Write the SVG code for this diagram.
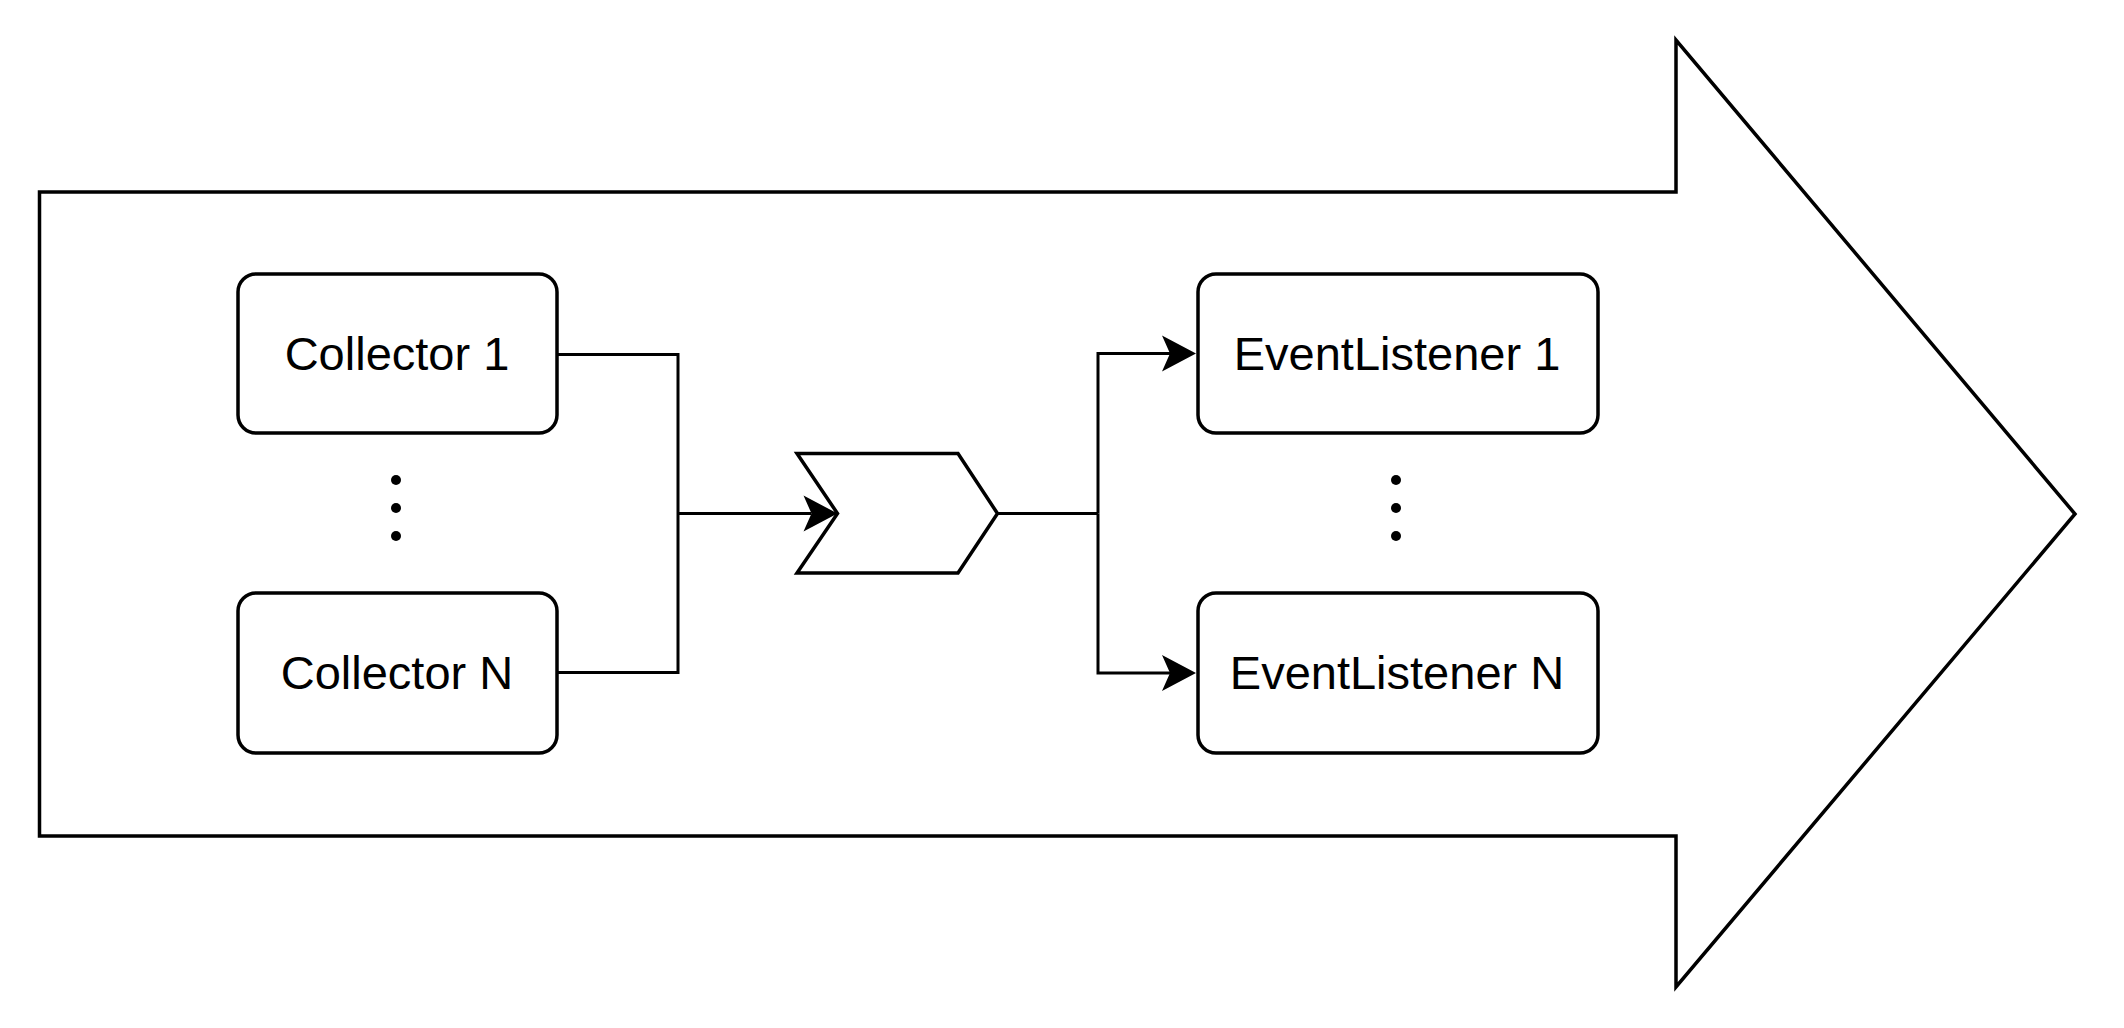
<svg xmlns="http://www.w3.org/2000/svg" width="2124" height="1028" viewBox="0 0 2124 1028">
<style>
.shape{fill:#fff;stroke:#000;stroke-width:3.5;stroke-linejoin:miter}
.box{fill:#fff;stroke:#000;stroke-width:3.5}
.lbl{font-family:"Liberation Sans",Arial,sans-serif;font-size:47px;fill:#000;text-anchor:middle}
.edge{fill:none;stroke:#000;stroke-width:3}
.dot{fill:#000}
</style>
<defs>
<marker id="arr" markerUnits="userSpaceOnUse" markerWidth="38" markerHeight="40" viewBox="-1 -1 38 40" refX="8" refY="18" orient="auto">
<path d="M34 18 L0 0 L8 18 L0 36 Z" fill="#000"/>
</marker>
</defs>
<rect width="2124" height="1028" fill="#fff"/>
<g id="pipeline">
<path class="shape" d="M39.5 192 L1676 192 L1676 40 L2075 514 L1676 987 L1676 836 L39.5 836 Z"/>
</g>
<g id="collector-1">
<rect class="box" x="238" y="274" width="319" height="159" rx="18"/>
<text class="lbl" x="397" y="370">Collector 1</text>
</g>
<g id="collector-dots">
<circle class="dot" cx="396" cy="480" r="5"/>
<circle class="dot" cx="396" cy="508" r="5"/>
<circle class="dot" cx="396" cy="536" r="5"/>
</g>
<g id="collector-n">
<rect class="box" x="238" y="593" width="319" height="160" rx="18"/>
<text class="lbl" x="397" y="689">Collector N</text>
</g>
<g id="queue">
<path class="shape" d="M797 453.5 L958 453.5 L997.5 513.5 L958 573 L797 573 L837.5 513.5 Z"/>
</g>
<g id="listener-1">
<rect class="box" x="1198" y="274" width="400" height="159" rx="18"/>
<text class="lbl" x="1397" y="370">EventListener 1</text>
</g>
<g id="listener-dots">
<circle class="dot" cx="1396" cy="480" r="5"/>
<circle class="dot" cx="1396" cy="508" r="5"/>
<circle class="dot" cx="1396" cy="536" r="5"/>
</g>
<g id="listener-n">
<rect class="box" x="1198" y="593" width="400" height="160" rx="18"/>
<text class="lbl" x="1397" y="689">EventListener N</text>
</g>
<g id="connectors">
<path class="edge" d="M557 354.5 L678 354.5 L678 672.5 L557 672.5"/>
<path class="edge" d="M678 513.5 L811.5 513.5" marker-end="url(#arr)"/>
<path class="edge" d="M997.5 513.5 L1098 513.5"/>
<path class="edge" d="M1098 513.5 L1098 353.5 L1170 353.5" marker-end="url(#arr)"/>
<path class="edge" d="M1098 513.5 L1098 673 L1170 673" marker-end="url(#arr)"/>
</g>
</svg>
